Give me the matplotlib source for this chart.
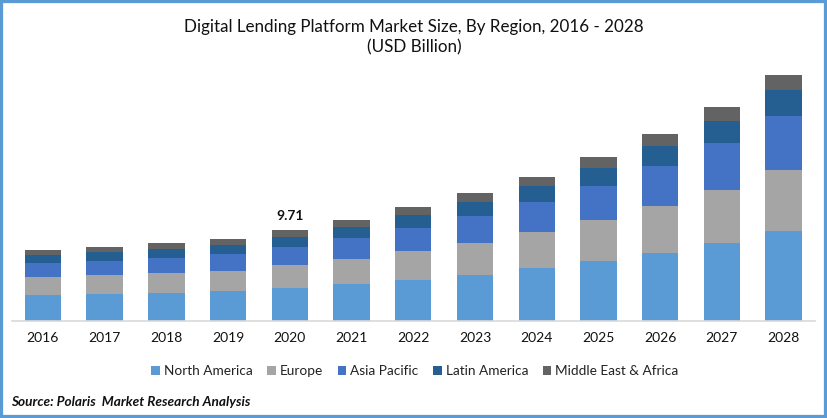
import matplotlib
matplotlib.use('Agg')
import matplotlib.pyplot as plt
from matplotlib.patches import Rectangle
import numpy as np

years = ['2016', '2017', '2018', '2019', '2020', '2021', '2022', '2023', '2024', '2025', '2026', '2027', '2028']
north_america = [2.77, 2.88, 2.99, 3.20, 3.52, 3.95, 4.37, 4.91, 5.66, 6.40, 7.26, 8.32, 9.60]
europe = [1.92, 2.03, 2.13, 2.13, 2.45, 2.67, 3.09, 3.41, 3.84, 4.37, 5.01, 5.66, 6.51]
asia_pacific = [1.49, 1.49, 1.60, 1.81, 1.92, 2.24, 2.45, 2.88, 3.20, 3.63, 4.27, 5.01, 5.76]
latin_america = [0.85, 0.96, 0.96, 0.96, 1.07, 1.17, 1.39, 1.49, 1.71, 1.92, 2.13, 2.35, 2.77]
mea = [0.53, 0.53, 0.64, 0.64, 0.75, 0.75, 0.85, 0.96, 0.96, 1.17, 1.28, 1.49, 1.60]

series = [('North America', north_america, '#5b9bd5'),
          ('Europe', europe, '#a5a5a5'),
          ('Asia Pacific', asia_pacific, '#4472c4'),
          ('Latin America', latin_america, '#255e91'),
          ('Middle East & Africa', mea, '#636363')]

plt.rcParams['font.family'] = ['Lato', 'DejaVu Sans']

W, H = 827, 418
fig = plt.figure(figsize=(W / 100, H / 100), dpi=100)
# axes box in pixels: x 12-814, baseline at y=321
ax = fig.add_axes([12 / W, 1 - 321 / H, 802.5 / W, 261 / H])

x = np.arange(len(years))
bottom = np.zeros(len(years))
for name, vals, col in series:
    ax.bar(x, vals, 0.59, bottom=bottom, color=col, label=name)
    bottom += np.array(vals)

ax.set_xlim(-0.5, 12.5)
ax.set_ylim(0, 27.85)
ax.set_xticks(x)
ax.set_xticklabels(years, fontsize=10, color='#111111')
ax.tick_params(axis='x', length=0, pad=8)
ax.set_yticks([])
for s in ['top', 'left', 'right']:
    ax.spines[s].set_visible(False)
ax.spines['bottom'].set_color('#d9d9d9')
ax.spines['bottom'].set_linewidth(1.2)

ax.text(4, bottom[4] + 0.9, '9.71', ha='center', va='bottom', fontsize=10, fontweight='bold', color='#111111')

fig.text(414 / W, 1 - 27 / H, 'Digital Lending Platform Market Size, By Region, 2016 - 2028',
         ha='center', va='center', fontsize=12.25, color='#111111')
fig.text(414 / W, 1 - 47 / H, '(USD Billion)', ha='center', va='center', fontsize=12.25, color='#111111')

fig.legend(loc='center', bbox_to_anchor=(415 / W, 1 - 371 / H), ncol=5, frameon=False, fontsize=9.8,
           handlelength=0.6, handleheight=0.6, handletextpad=0.3, columnspacing=1.1, labelcolor='#222222')

fig.text(11 / W, 1 - 402.5 / H, 'Source: Polaris  Market Research Analysis', ha='left', va='center',
         fontsize=9.8, fontweight='bold', fontstyle='italic', color='#111111')

# blue frame round the picture
fig.add_artist(Rectangle((0, 0), 1, 1, transform=fig.transFigure, fill=False, edgecolor='#5b9bd5', linewidth=4.5))

fig.savefig('out.png', dpi=100)
